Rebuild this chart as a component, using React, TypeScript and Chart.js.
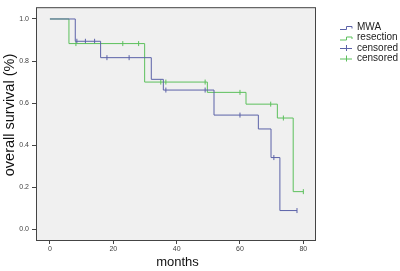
import React, { useEffect, useRef } from "react";
import { Chart, registerables } from "chart.js";

Chart.register(...registerables);

// Kaplan-Meier step points (time in months, survival)
const mwaTimes = [0, 8, 16, 32, 35.8, 51.8, 65.8, 69.8, 72.6, 78];
const mwaSurvival = [1.0, 0.894, 0.816, 0.713, 0.662, 0.543, 0.477, 0.341, 0.089, 0.089];
const resTimes = [0, 6, 29.9, 49.7, 61.9, 71.8, 76.8, 80];
const resSurvival = [1.0, 0.883, 0.7, 0.651, 0.595, 0.529, 0.179, 0.179];

// censored marks
const mwaCensTimes = [8.5, 11.2, 14.1, 18, 25, 36.6, 49, 60, 70.7, 78];
const mwaCensSurv = [0.894, 0.894, 0.894, 0.816, 0.816, 0.662, 0.662, 0.543, 0.341, 0.089];
const resCensTimes = [8.2, 23, 28, 35, 36.6, 49, 60, 69.7, 73.7, 80];
const resCensSurv = [0.883, 0.883, 0.883, 0.7, 0.7, 0.7, 0.651, 0.595, 0.529, 0.179];

const xTicks = [0, 20, 40, 60, 80];
const yTicks = [0, 0.2, 0.4, 0.6, 0.8, 1.0];
const legendLabels = ["MWA", "resection", "censored", "censored"];

const BLUE = "#5b62a8";
const GREEN = "#5cc05c";
const FONT = '"Liberation Sans", Arial, sans-serif';

const pts = (xs: number[], ys: number[]) => xs.map((x, i) => ({ x, y: ys[i] }));

export default function App() {
  const ref = useRef<HTMLCanvasElement | null>(null);
  useEffect(() => {
    if (!ref.current) return;
    const deco = {
      id: "deco",
      beforeDraw(chart: any) {
        const { ctx, chartArea: a } = chart;
        ctx.save();
        ctx.fillStyle = "#f0f0f0";
        ctx.fillRect(a.left, a.top, a.right - a.left, a.bottom - a.top);
        ctx.restore();
      },
      afterDraw(chart: any) {
        const { ctx, chartArea: a } = chart;
        ctx.save();
        ctx.strokeStyle = "#444";
        ctx.lineWidth = 1;
        ctx.strokeRect(a.left + 0.5, a.top + 0.5, a.right - a.left - 1, a.bottom - a.top);
        // axis titles
        ctx.fillStyle = "#111";
        ctx.textAlign = "center";
        ctx.textBaseline = "middle";
        ctx.font = `13px ${FONT}`;
        ctx.fillText("months", 177.5, 262);
        ctx.save();
        ctx.translate(10, 115);
        ctx.rotate(-Math.PI / 2);
        ctx.font = `14.5px ${FONT}`;
        ctx.fillText("overall survival (%)", 0, 0);
        ctx.restore();
        // legend
        const rows = [27, 37.5, 48, 58.5];
        const colors = [BLUE, GREEN, BLUE, GREEN];
        ctx.lineWidth = 1;
        rows.forEach((y, i) => {
          ctx.strokeStyle = colors[i];
          ctx.beginPath();
          if (i < 2) {
            ctx.moveTo(340, y + 2.5);
            ctx.lineTo(346.5, y + 2.5);
            ctx.lineTo(346.5, y - 0.5);
            ctx.lineTo(352, y - 0.5);
            ctx.lineTo(352, y + 1.5);
          } else {
            ctx.moveTo(340, y + 0.5);
            ctx.lineTo(352, y + 0.5);
            ctx.moveTo(346.5, y - 3);
            ctx.lineTo(346.5, y + 3);
          }
          ctx.stroke();
          ctx.fillStyle = "#222";
          ctx.textAlign = "left";
          ctx.font = `10px ${FONT}`;
          ctx.fillText(legendLabels[i], 357, y);
        });
        ctx.restore();
      },
    };
    const chart = new Chart(ref.current, {
      type: "line",
      data: {
        datasets: [
          {
            label: "MWA",
            data: pts(mwaTimes, mwaSurvival),
            borderColor: BLUE,
            borderWidth: 1,
            stepped: true,
            pointRadius: 0,
            fill: false,
          },
          {
            label: "resection",
            data: pts(resTimes, resSurvival),
            borderColor: GREEN,
            borderWidth: 1,
            stepped: true,
            pointRadius: 0,
            fill: false,
          },
          {
            label: "censored",
            data: pts(mwaCensTimes, mwaCensSurv),
            showLine: false,
            pointStyle: "line",
            rotation: 90,
            pointRadius: 2.5,
            borderColor: BLUE,
            borderWidth: 1,
          },
          {
            label: "censored",
            data: pts(resCensTimes, resCensSurv),
            showLine: false,
            pointStyle: "line",
            rotation: 90,
            pointRadius: 2.5,
            borderColor: GREEN,
            borderWidth: 1,
          },
        ],
      },
      options: {
        animation: false,
        responsive: false,
        layout: { padding: { top: 3, right: 84, left: 0, bottom: 0 } },
        plugins: { legend: { display: false }, tooltip: { enabled: false } },
        scales: {
          x: {
            type: "linear",
            min: -4.4,
            max: 84,
            afterBuildTicks: (s: any) => {
              s.ticks = xTicks.map((v) => ({ value: v }));
            },
            afterFit: (s: any) => {
              s.height = 31;
            },
            grid: { drawOnChartArea: false, drawTicks: true, tickLength: 4, color: "#444" },
            border: { display: false },
            ticks: { font: { size: 7, family: FONT }, color: "#444", padding: 1, maxRotation: 0 },
          },
          y: {
            type: "linear",
            min: -0.051,
            max: 1.056,
            afterBuildTicks: (s: any) => {
              s.ticks = yTicks.map((v) => ({ value: v }));
            },
            afterFit: (s: any) => {
              s.width = 36;
            },
            grid: { drawOnChartArea: false, drawTicks: true, tickLength: 4, color: "#444" },
            border: { display: false },
            ticks: {
              font: { size: 7, family: FONT },
              color: "#444",
              padding: 3,
              callback: (v: any) => Number(v).toFixed(1),
            },
          },
        },
      },
      plugins: [deco],
    } as any);
    return () => chart.destroy();
  }, []);
  return (
    <div style={{ position: "absolute", left: 0, top: 0, width: 400, height: 271, background: "#fff" }}>
      <canvas ref={ref} width={400} height={271} style={{ display: "block" }} />
    </div>
  );
}
